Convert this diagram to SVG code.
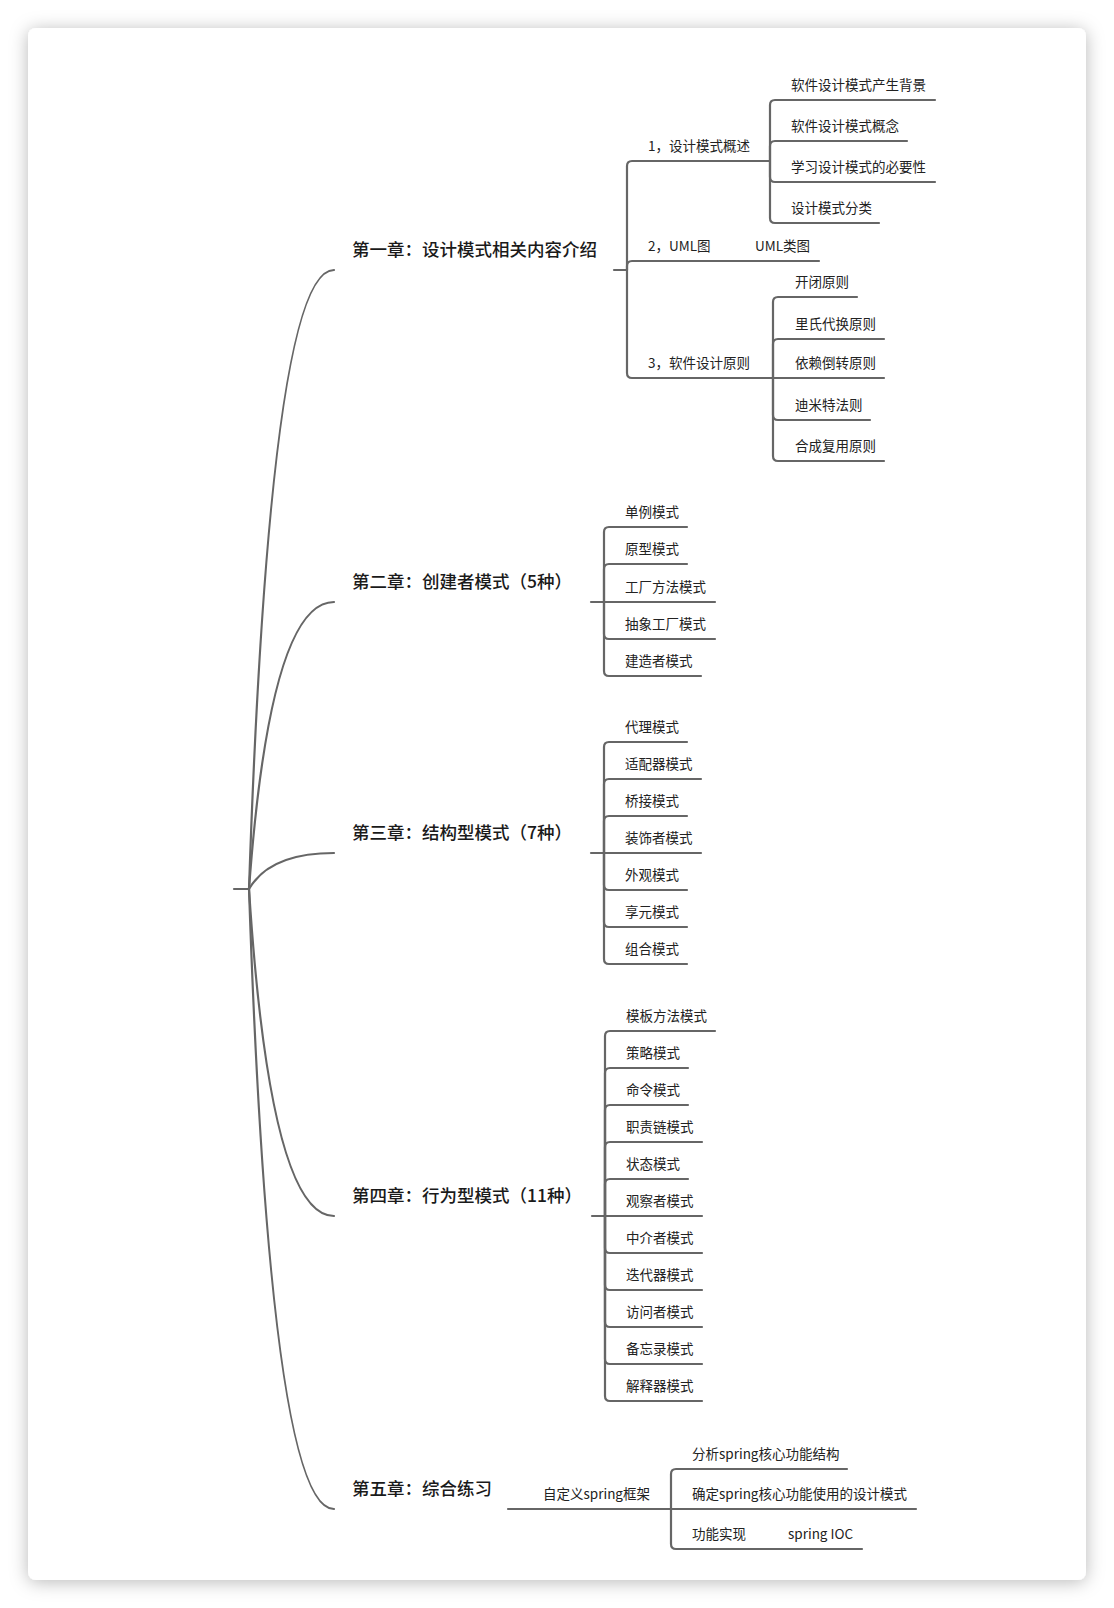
<svg xmlns="http://www.w3.org/2000/svg" width="1114" height="1608" viewBox="0 0 1114 1608">
<style>
.t{font-family:"Noto Sans CJK SC","Noto Sans",sans-serif;font-size:13.5px;fill:#222}
.h{font-family:"Noto Sans CJK SC","Noto Sans",sans-serif;font-size:17.5px;font-weight:500;fill:#1a1a1a}
.c{fill:none;stroke:#666;stroke-width:2.2;stroke-linecap:round;stroke-linejoin:round}
</style>
<defs>
<filter id="sh" x="-10%" y="-10%" width="120%" height="120%">
<feDropShadow dx="0" dy="2" stdDeviation="9" flood-color="#000" flood-opacity="0.28"/>
</filter>
</defs>
<rect width="1114" height="1608" fill="#fff"/>
<rect x="28" y="28" width="1058" height="1552" rx="8" fill="#fff" filter="url(#sh)"/>

<g id="connectors" class="c">
<path d="M234 889H249"/>
<path d="M249 889Q270 270 334 270"/>
<path d="M249 889Q270 602 334 602"/>
<path d="M249 889Q270 853 334 853"/>
<path d="M249 889Q270 1216 334 1216"/>
<path d="M249 889Q270 1509 334 1509"/>
<!-- ch1 -->
<path d="M614 270H627"/>
<path d="M627 270V166Q627 161 632 161H770"/>
<path d="M627 270V266Q627 261 632 261H819"/>
<path d="M627 270V373Q627 378 632 378H773"/>
<path d="M770 161V105Q770 100 775 100H935"/>
<path d="M770 161V146Q770 141 775 141H907"/>
<path d="M770 161V177Q770 182 775 182H935"/>
<path d="M770 161V218Q770 223 775 223H879"/>
<path d="M773 378V302Q773 297 778 297H857"/>
<path d="M773 378V344Q773 339 778 339H884"/>
<path d="M773 378H884"/>
<path d="M773 378V415Q773 420 778 420H870"/>
<path d="M773 378V456Q773 461 778 461H884"/>
<!-- ch2 -->
<path d="M591 602H604"/>
<path d="M604 602V532Q604 527 609 527H687"/>
<path d="M604 602V569Q604 564 609 564H687"/>
<path d="M604 602H715"/>
<path d="M604 602V634Q604 639 609 639H715"/>
<path d="M604 602V671Q604 676 609 676H701"/>
<!-- ch3 -->
<path d="M591 853H604"/>
<path d="M604 853V747Q604 742 609 742H687"/>
<path d="M604 853V784Q604 779 609 779H701"/>
<path d="M604 853V821Q604 816 609 816H687"/>
<path d="M604 853H701"/>
<path d="M604 853V885Q604 890 609 890H687"/>
<path d="M604 853V922Q604 927 609 927H687"/>
<path d="M604 853V959Q604 964 609 964H687"/>
<!-- ch4 -->
<path d="M592 1216H605"/>
<path d="M605 1216V1036Q605 1031 610 1031H715"/>
<path d="M605 1216V1073Q605 1068 610 1068H688"/>
<path d="M605 1216V1110Q605 1105 610 1105H688"/>
<path d="M605 1216V1147Q605 1142 610 1142H702"/>
<path d="M605 1216V1184Q605 1179 610 1179H688"/>
<path d="M605 1216H702"/>
<path d="M605 1216V1248Q605 1253 610 1253H702"/>
<path d="M605 1216V1285Q605 1290 610 1290H702"/>
<path d="M605 1216V1322Q605 1327 610 1327H702"/>
<path d="M605 1216V1359Q605 1364 610 1364H702"/>
<path d="M605 1216V1396Q605 1401 610 1401H702"/>
<!-- ch5 -->
<path d="M508 1509H671"/>
<path d="M671 1509V1474Q671 1469 676 1469H847"/>
<path d="M671 1509H916"/>
<path d="M671 1509V1544Q671 1549 676 1549H862"/>
</g>

<g id="ch1"><text class="h" x="352" y="256">第一章：设计模式相关内容介绍</text></g>
<g id="ch1-1"><text class="t" x="648" y="151">1，设计模式概述</text></g>
<g id="ch1-1-1"><text class="t" x="791" y="90">软件设计模式产生背景</text></g>
<g id="ch1-1-2"><text class="t" x="791" y="131">软件设计模式概念</text></g>
<g id="ch1-1-3"><text class="t" x="791" y="172">学习设计模式的必要性</text></g>
<g id="ch1-1-4"><text class="t" x="791" y="213">设计模式分类</text></g>
<g id="ch1-2"><text class="t" x="648" y="251">2，UML图</text></g>
<g id="ch1-2-1"><text class="t" x="755" y="251">UML类图</text></g>
<g id="ch1-3"><text class="t" x="648" y="368">3，软件设计原则</text></g>
<g id="ch1-3-1"><text class="t" x="795" y="287">开闭原则</text></g>
<g id="ch1-3-2"><text class="t" x="795" y="329">里氏代换原则</text></g>
<g id="ch1-3-3"><text class="t" x="795" y="368">依赖倒转原则</text></g>
<g id="ch1-3-4"><text class="t" x="795" y="410">迪米特法则</text></g>
<g id="ch1-3-5"><text class="t" x="795" y="451">合成复用原则</text></g>

<g id="ch2"><text class="h" x="352" y="588">第二章：创建者模式（5种）</text></g>
<g id="ch2-1"><text class="t" x="625" y="517">单例模式</text></g>
<g id="ch2-2"><text class="t" x="625" y="554">原型模式</text></g>
<g id="ch2-3"><text class="t" x="625" y="592">工厂方法模式</text></g>
<g id="ch2-4"><text class="t" x="625" y="629">抽象工厂模式</text></g>
<g id="ch2-5"><text class="t" x="625" y="666">建造者模式</text></g>

<g id="ch3"><text class="h" x="352" y="839">第三章：结构型模式（7种）</text></g>
<g id="ch3-1"><text class="t" x="625" y="732">代理模式</text></g>
<g id="ch3-2"><text class="t" x="625" y="769">适配器模式</text></g>
<g id="ch3-3"><text class="t" x="625" y="806">桥接模式</text></g>
<g id="ch3-4"><text class="t" x="625" y="843">装饰者模式</text></g>
<g id="ch3-5"><text class="t" x="625" y="880">外观模式</text></g>
<g id="ch3-6"><text class="t" x="625" y="917">享元模式</text></g>
<g id="ch3-7"><text class="t" x="625" y="954">组合模式</text></g>

<g id="ch4"><text class="h" x="352" y="1202">第四章：行为型模式（11种）</text></g>
<g id="ch4-1"><text class="t" x="626" y="1021">模板方法模式</text></g>
<g id="ch4-2"><text class="t" x="626" y="1058">策略模式</text></g>
<g id="ch4-3"><text class="t" x="626" y="1095">命令模式</text></g>
<g id="ch4-4"><text class="t" x="626" y="1132">职责链模式</text></g>
<g id="ch4-5"><text class="t" x="626" y="1169">状态模式</text></g>
<g id="ch4-6"><text class="t" x="626" y="1206">观察者模式</text></g>
<g id="ch4-7"><text class="t" x="626" y="1243">中介者模式</text></g>
<g id="ch4-8"><text class="t" x="626" y="1280">迭代器模式</text></g>
<g id="ch4-9"><text class="t" x="626" y="1317">访问者模式</text></g>
<g id="ch4-10"><text class="t" x="626" y="1354">备忘录模式</text></g>
<g id="ch4-11"><text class="t" x="626" y="1391">解释器模式</text></g>

<g id="ch5"><text class="h" x="352" y="1495">第五章：综合练习</text></g>
<g id="ch5-1"><text class="t" x="543" y="1499">自定义spring框架</text></g>
<g id="ch5-1-1"><text class="t" x="692" y="1459">分析spring核心功能结构</text></g>
<g id="ch5-1-2"><text class="t" x="692" y="1499">确定spring核心功能使用的设计模式</text></g>
<g id="ch5-1-3"><text class="t" x="692" y="1539">功能实现</text></g>
<g id="ch5-1-3-1"><text class="t" x="788" y="1539">spring IOC</text></g>
</svg>
